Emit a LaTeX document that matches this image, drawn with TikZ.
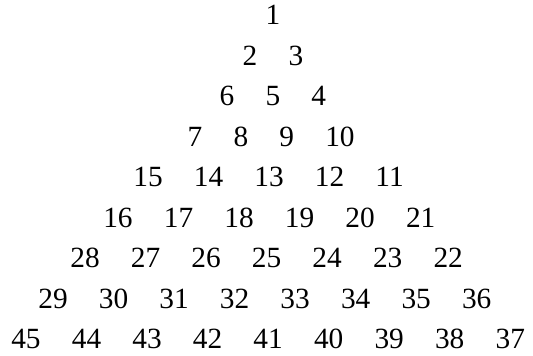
\documentclass[tikz,border=0pt]{standalone}
\usepackage{fontspec}
\setmainfont{Liberation Serif}
\usetikzlibrary{positioning}

\begin{document}
\begin{tikzpicture}[x=0.75pt,y=-0.75pt,
    num/.style={inner sep=0pt,font=\fontsize{22}{26}\selectfont}]
    \useasboundingbox (0,0) rectangle (533,356);

    % first number on the left of each row, the others placed to its right
    \foreach \r/\x in {1/273,2/250,3/227,4/195,5/148,6/118,7/85,8/53,9/26} {
        \pgfmathtruncatemacro{\first}{\r*(\r-1)/2+1}
        \foreach \k in {1,...,\r} {
            \pgfmathtruncatemacro{\val}{mod(\r,2)==0 ? \first+\k-1 : \first+\r-\k}
            \pgfmathtruncatemacro{\prev}{mod(\r,2)==0 ? \val-1 : \val+1}
            \ifnum\k=1
                \node[num] (n\val) at (\x, 15+40.5*\r-40.5) {\val};
            \else
                \node[num,right=23pt of n\prev] (n\val) {\val};
            \fi
        }
    }
\end{tikzpicture}
\end{document}
